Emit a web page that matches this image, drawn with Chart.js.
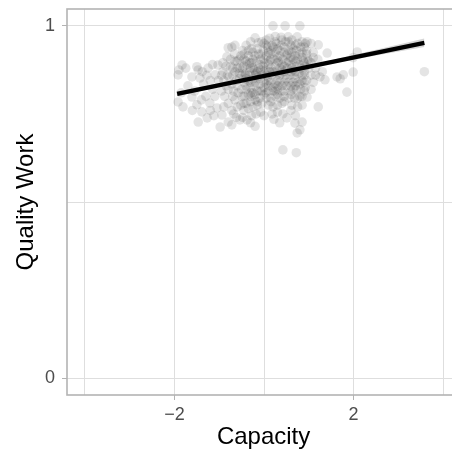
<!DOCTYPE html>
<html lang="en">
<head>
<meta charset="UTF-8">
<title>Quality Work vs Capacity</title>
<script src="https://cdn.jsdelivr.net/npm/chart.js"></script>
<style>
  html, body { margin: 0; padding: 0; background: #fff; overflow: hidden; }
  #wrap { width: 452px; height: 455px; overflow: hidden; }
</style>
</head>
<body>
<div id="wrap"><canvas id="grafico" width="465" height="455"></canvas></div>
<script>
// observations [capacity, quality work], grouped by capacity range
const obsBelowM1 = [
  [-1.83,0.889],[-1.92,0.861],[-1.50,0.884],[-1.47,0.875],[-1.61,0.855],[-1.43,0.852],[-1.03,0.889],[-1.09,0.861],
  [-1.92,0.784],[-1.81,0.770],[-1.61,0.798],[-1.50,0.776],[-1.39,0.756],[-1.27,0.739],[-1.47,0.727],[-1.21,0.781],
  [-1.05,0.767],[-1.90,0.875],[-1.75,0.880],[-1.70,0.830],[-1.55,0.815],[-1.35,0.835],[-1.28,0.860],[-1.20,0.845],
  [-1.15,0.820],[-1.10,0.800],[-1.30,0.800],[-1.40,0.790],[-1.20,0.760],[-1.12,0.745],[-1.60,0.760],[-1.85,0.810],
  [-1.25,0.880],[-1.15,0.890],[-1.38,0.870],[-1.02,0.845]
];
const obsM1toM05 = [
  [-0.80,0.938],[-0.72,0.940],[-0.83,0.912],[-0.92,0.895],[-0.85,0.885],[-0.75,0.905],[-0.95,0.860],[-0.90,0.845],
  [-0.82,0.860],[-0.70,0.880],[-0.65,0.870],[-0.60,0.900],[-0.55,0.880],[-0.95,0.815],[-0.88,0.800],[-0.80,0.820],
  [-0.72,0.835],[-0.62,0.845],[-0.55,0.850],[-0.90,0.770],[-0.80,0.780],[-0.72,0.760],[-0.65,0.790],[-0.58,0.810],
  [-0.94,0.747],[-0.98,0.713],[-0.80,0.727],[-0.72,0.719],[-0.68,0.750],[-0.60,0.770],[-0.52,0.775],[-0.54,0.733],
  [-0.62,0.740],[-0.78,0.855],[-0.68,0.815],[-0.50,0.820],[-0.92,0.870],[-0.85,0.830],[-0.52,0.915],[-0.66,0.920],
  [-0.65,0.945]
];
const obsM05to0 = [
  [-0.48,0.930],[-0.40,0.945],[-0.30,0.955],[-0.20,0.966],[-0.13,0.952],[-0.05,0.955],[-0.45,0.905],[-0.35,0.915],
  [-0.25,0.925],[-0.12,0.920],[-0.02,0.930],[-0.48,0.880],[-0.38,0.890],[-0.28,0.895],[-0.18,0.900],[-0.08,0.905],
  [-0.42,0.860],[-0.32,0.870],[-0.22,0.875],[-0.12,0.880],[-0.02,0.885],[-0.45,0.840],[-0.35,0.845],[-0.25,0.850],
  [-0.15,0.855],[-0.05,0.860],[-0.40,0.820],[-0.30,0.825],[-0.20,0.830],[-0.10,0.835],[0.00,0.840],[-0.45,0.800],
  [-0.35,0.805],[-0.25,0.810],[-0.15,0.815],[-0.05,0.815],[-0.40,0.780],[-0.30,0.785],[-0.20,0.790],[-0.10,0.795],
  [-0.45,0.760],[-0.35,0.765],[-0.25,0.770],[-0.15,0.775],[-0.05,0.780],[-0.38,0.733],[-0.28,0.745],[-0.18,0.750],
  [-0.08,0.755],[-0.30,0.725],[-0.48,0.740],[-0.20,0.715],[-0.42,0.865],[-0.18,0.865],[-0.32,0.895],[-0.08,0.875],
  [-0.28,0.935]
];
const obs0to05 = [
  [0.05,0.960],[0.12,0.965],[0.25,0.970],[0.20,1.000],[0.38,0.968],[0.47,1.000],[0.08,0.940],[0.18,0.945],
  [0.28,0.950],[0.38,0.945],[0.48,0.955],[0.05,0.915],[0.15,0.920],[0.25,0.925],[0.35,0.930],[0.45,0.925],
  [0.02,0.895],[0.12,0.900],[0.22,0.905],[0.32,0.900],[0.42,0.905],[0.05,0.875],[0.15,0.880],[0.25,0.885],
  [0.35,0.880],[0.45,0.885],[0.08,0.855],[0.18,0.860],[0.28,0.860],[0.38,0.865],[0.48,0.860],[0.05,0.835],
  [0.15,0.840],[0.25,0.835],[0.35,0.840],[0.45,0.840],[0.10,0.815],[0.20,0.815],[0.30,0.820],[0.40,0.815],
  [0.05,0.795],[0.15,0.795],[0.25,0.800],[0.35,0.795],[0.45,0.800],[0.10,0.775],[0.20,0.770],[0.30,0.775],
  [0.40,0.780],[0.18,0.750],[0.30,0.755],[0.42,0.750],[0.22,0.735],[0.51,0.739],[0.42,0.648],[0.12,0.870],
  [0.30,0.910],[0.40,0.960],[0.00,0.745],[0.35,0.725]
];
const obs05to1 = [
  [0.54,0.969],[0.74,0.969],[0.80,1.000],[0.62,0.960],[0.92,0.950],[0.60,0.945],[0.70,0.945],[0.82,0.940],
  [0.96,0.955],[0.52,0.920],[0.62,0.925],[0.72,0.930],[0.85,0.925],[0.95,0.920],[0.55,0.900],[0.65,0.905],
  [0.75,0.905],[0.88,0.900],[0.98,0.905],[0.52,0.880],[0.62,0.880],[0.72,0.885],[0.82,0.880],[0.92,0.885],
  [0.58,0.860],[0.68,0.860],[0.78,0.865],[0.90,0.860],[0.55,0.840],[0.65,0.840],[0.75,0.840],[0.85,0.845],
  [0.95,0.845],[0.60,0.815],[0.72,0.820],[0.82,0.820],[0.92,0.825],[0.55,0.795],[0.68,0.795],[0.80,0.800],
  [0.96,0.798],[0.62,0.775],[0.75,0.770],[0.85,0.775],[0.70,0.745],[0.69,0.724],[0.85,0.727],[0.80,0.705],
  [0.74,0.696],[0.72,0.640],[0.60,0.760]
];
const obsAbove1 = [
  [1.21,0.946],[1.41,0.923],[1.05,0.950],[1.10,0.925],[1.20,0.905],[1.05,0.895],[1.15,0.880],[1.30,0.870],
  [1.36,0.847],[1.25,0.855],[1.05,0.860],[1.21,0.770],[1.05,0.820],[1.10,0.840],
  [1.63,0.855],[1.77,0.861],[1.99,0.869],[1.99,0.910],[2.08,0.926],[1.85,0.812],[1.70,0.850],
  [3.58,0.870]
];
const obsDenseA = [
  [-0.55,0.905],[-0.45,0.885],[-0.35,0.930],[-0.25,0.905],[-0.15,0.935],[-0.05,0.920],[0.05,0.945],[0.15,0.930],
  [0.25,0.955],[0.35,0.915],[0.45,0.940],[0.55,0.930],[0.65,0.935],[0.75,0.950],[0.85,0.910],[0.95,0.930],
  [-0.50,0.860],[-0.40,0.850],[-0.30,0.880],[-0.20,0.860],[-0.10,0.890],[0.00,0.870],[0.10,0.890],[0.20,0.870],
  [0.30,0.895],[0.40,0.875],[0.50,0.895],[0.60,0.890],[0.70,0.870],[0.80,0.890],[0.90,0.870],[1.00,0.880],
  [-0.50,0.800],[-0.40,0.830],[-0.30,0.810],[-0.20,0.840],[-0.10,0.815],[0.00,0.825],[0.10,0.845],[0.20,0.825],
  [0.30,0.845],[0.40,0.830],[0.50,0.850],[0.60,0.830],[0.70,0.850],[0.80,0.835],[0.90,0.815],
  [-0.45,0.780],[-0.30,0.800],[-0.15,0.785],[0.00,0.805],[0.15,0.785],[0.30,0.805],[0.45,0.785],[0.60,0.805],
  [0.75,0.795],[-0.60,0.880],[-0.70,0.860],[-0.75,0.885],[-0.60,0.830],[-0.70,0.800],[-0.45,0.920],[0.60,0.910],
  [0.70,0.915],[0.80,0.920],[0.90,0.940],[0.20,0.940],[0.00,0.905],[0.35,0.860],[-0.25,0.880]
];
const obsDenseB = [
  [-0.40,0.900],[-0.20,0.915],[0.00,0.950],[0.10,0.925],[0.30,0.935],[0.50,0.915],[0.70,0.900],[0.90,0.895],
  [-0.35,0.860],[-0.15,0.870],[0.05,0.860],[0.25,0.870],[0.45,0.870],[0.65,0.875],[0.85,0.860],[1.00,0.900],
  [-0.30,0.840],[-0.10,0.850],[0.10,0.830],[0.30,0.830],[0.50,0.830],[0.70,0.830],[0.90,0.840],
  [-0.20,0.805],[0.05,0.810],[0.25,0.815],[0.45,0.815],[0.65,0.820],[0.85,0.800],
  [0.55,0.955],[0.85,0.955],[1.10,0.910],[1.15,0.860],[-0.55,0.865],[-0.65,0.900],[0.15,0.905],[0.40,0.890],[0.60,0.870]
];

// fitted line and its confidence band
const fitX = [-1.94, 3.58];
const fitY = [0.807, 0.952];
const bandX = [-1.94, -0.5, 0.5, 1.5, 2.5, 3.58];
const bandUpper = [0.814, 0.849, 0.874, 0.9025, 0.932, 0.964];
const bandLower = [0.800, 0.841, 0.868, 0.8925, 0.916, 0.940];

// axis breaks
const xGrid = [-4, -2, 0, 2, 4];
const xMajor = [-2, 2];
const xLabels = ['\u22122', '2'];
const yGrid = [0, 0.5, 1];
const yMajor = [0, 1];
const yLabels = ['0', '1'];

const points = [].concat(obsBelowM1, obsM1toM05, obsM05to0, obs0to05, obs05to1, obsAbove1, obsDenseA, obsDenseB)
  .map(p => ({ x: p[0], y: p[1] }));
const fitData = fitX.map((x, i) => ({ x: x, y: fitY[i] }));
const upperData = bandX.map((x, i) => ({ x: x, y: bandUpper[i] }));
const lowerData = bandX.map((x, i) => ({ x: x, y: bandLower[i] }));

const fontFam = '"Liberation Sans", Arial, sans-serif';

// no extra room for end labels: the panel edges are fixed below
function noPad(s) { s.paddingTop = 0; s.paddingBottom = 0; s.paddingLeft = 0; s.paddingRight = 0; }

const panelBorder = {
  id: 'panelBorder',
  afterDatasetsDraw(chart) {
    const a = chart.chartArea, c = chart.ctx;
    c.save();
    c.strokeStyle = '#b3b3b3';
    c.lineWidth = 1.6;
    c.strokeRect(a.left, a.top, a.right - a.left, a.bottom - a.top);
    c.restore();
  }
};

new Chart(document.getElementById('grafico').getContext('2d'), {
  type: 'scatter',
  data: {
    datasets: [
      { type: 'line', data: fitData, borderColor: '#000', borderWidth: 4.3, pointRadius: 0, fill: false, order: 0 },
      { type: 'line', data: upperData, borderWidth: 0, pointRadius: 0, backgroundColor: 'rgba(153,153,153,0.4)', fill: '+1', order: 1 },
      { type: 'line', data: lowerData, borderWidth: 0, pointRadius: 0, fill: false, order: 1 },
      { data: points, backgroundColor: 'rgba(0,0,0,0.105)', borderWidth: 0, pointRadius: 4.8, order: 2 }
    ]
  },
  options: {
    responsive: false,
    animation: false,
    events: [],
    layout: { padding: { top: 9, right: 0, left: 0, bottom: 0 } },
    plugins: { legend: { display: false }, tooltip: { enabled: false } },
    scales: {
      x: {
        type: 'linear', min: -4.4, max: 4.38,
        afterBuildTicks: s => { s.ticks = xGrid.map(v => ({ value: v })); },
        afterFit: s => { s.height = 60; noPad(s); },
        border: { display: false },
        grid: {
          color: '#dedede', lineWidth: 1, tickLength: 5,
          tickColor: c => (c.tick && xMajor.includes(c.tick.value)) ? '#b3b3b3' : 'rgba(0,0,0,0)'
        },
        ticks: {
          autoSkip: false, maxRotation: 0, padding: 4, color: '#4d4d4d',
          font: { family: fontFam, size: 18 },
          callback: v => { const i = xMajor.indexOf(v); return i >= 0 ? xLabels[i] : ''; }
        },
        title: { display: true, text: 'Capacity', color: '#000', font: { family: fontFam, size: 24 }, padding: { bottom: 3 } }
      },
      y: {
        type: 'linear', min: -0.048, max: 1.048,
        afterBuildTicks: s => { s.ticks = yGrid.map(v => ({ value: v })); },
        afterFit: s => { s.width = 67; noPad(s); },
        border: { display: false },
        grid: {
          color: '#dedede', lineWidth: 1, tickLength: 5,
          tickColor: c => (c.tick && yMajor.includes(c.tick.value)) ? '#b3b3b3' : 'rgba(0,0,0,0)'
        },
        ticks: {
          autoSkip: false, padding: 7, color: '#4d4d4d',
          font: { family: fontFam, size: 18 },
          callback: v => { const i = yMajor.indexOf(v); return i >= 0 ? yLabels[i] : ''; }
        },
        title: { display: true, text: 'Quality Work', color: '#000', font: { family: fontFam, size: 24 }, padding: { top: 12 } }
      }
    }
  },
  plugins: [panelBorder]
});
</script>
</body>
</html>
